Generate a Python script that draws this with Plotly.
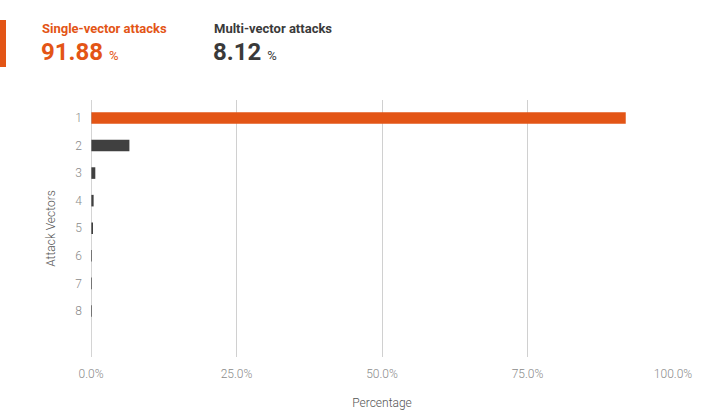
import plotly.graph_objects as go

vectors = [1, 2, 3, 4, 5, 6, 7, 8]
percentages = [91.88, 6.6, 0.74, 0.45, 0.3, 0.1, 0.07, 0.05]
x_ticks = [0, 25, 50, 75, 100]
x_tick_labels = ["0.0%", "25.0%", "50.0%", "75.0%", "100.0%"]
single_pct = "91.88"
multi_pct = "8.12"

ORANGE = "#e35516"
DARK = "#404040"

colors = [ORANGE if v == 1 else DARK for v in vectors]

fig = go.Figure(go.Bar(
    x=percentages, y=vectors, orientation="h",
    marker=dict(color=colors, line=dict(width=0)),
    width=0.42,
))

fig.update_layout(
    width=716, height=419,
    margin=dict(l=91, r=43, t=100, b=62),
    paper_bgcolor="white", plot_bgcolor="white",
    font=dict(family="Roboto", color="#888888", size=12),
    showlegend=False,
    xaxis=dict(
        range=[0, 100], tickvals=x_ticks, ticktext=x_tick_labels,
        showgrid=True, gridcolor="#d0d0d0", gridwidth=1,
        zeroline=False, showline=False, ticks="",
        ticklabelstandoff=8,
        tickfont=dict(size=12, color="#8a8a8a", weight=300),
        title=dict(text="Percentage", font=dict(size=12, color="#555555", weight=300), standoff=18),
        fixedrange=True,
    ),
    yaxis=dict(
        range=[9.67, 0.35], tickvals=vectors, ticktext=[str(v) for v in vectors],
        showgrid=False, zeroline=False, showline=False, ticks="",
        ticklabelstandoff=8,
        tickfont=dict(size=12, color="#8a8a8a", weight=300),
        title=dict(text="Attack Vectors", font=dict(size=12, color="#555555", weight=300), standoff=17),
        fixedrange=True,
    ),
    shapes=[
        dict(type="line", xref="x", yref="paper", x0=0, x1=0, y0=0, y1=1,
             line=dict(color="#aaaaaa", width=1)),
        dict(type="rect", xref="paper", yref="paper",
             x0=-91/582, x1=-85/582, y0=(419-62-67)/257, y1=(419-62-20)/257,
             fillcolor=ORANGE, line=dict(width=0), layer="above"),
    ],
    annotations=[
        dict(xref="paper", yref="paper", x=-51/582, y=(357-28)/257, xanchor="left", yanchor="middle",
             text="<b>Single-vector attacks</b>", showarrow=False,
             font=dict(family="Roboto", size=13, color=ORANGE)),
        dict(xref="paper", yref="paper", x=-52/582, y=(357-52)/257, xanchor="left", yanchor="middle",
             text=f"<b>{single_pct}</b> <span style='font-size:13px'>%</span>", showarrow=False,
             font=dict(family="Roboto", size=24, color=ORANGE)),
        dict(xref="paper", yref="paper", x=121/582, y=(357-28)/257, xanchor="left", yanchor="middle",
             text="<b>Multi-vector attacks</b>", showarrow=False,
             font=dict(family="Roboto", size=13, color="#3a3a3a")),
        dict(xref="paper", yref="paper", x=120/582, y=(357-52)/257, xanchor="left", yanchor="middle",
             text=f"<b>{multi_pct}</b> <span style='font-size:13px'>%</span>", showarrow=False,
             font=dict(family="Roboto", size=24, color="#3a3a3a")),
    ],
)

fig.write_html("out.html", config={"displayModeBar": False},
               post_script="document.body.style.margin='0';document.body.style.overflow='hidden';")
